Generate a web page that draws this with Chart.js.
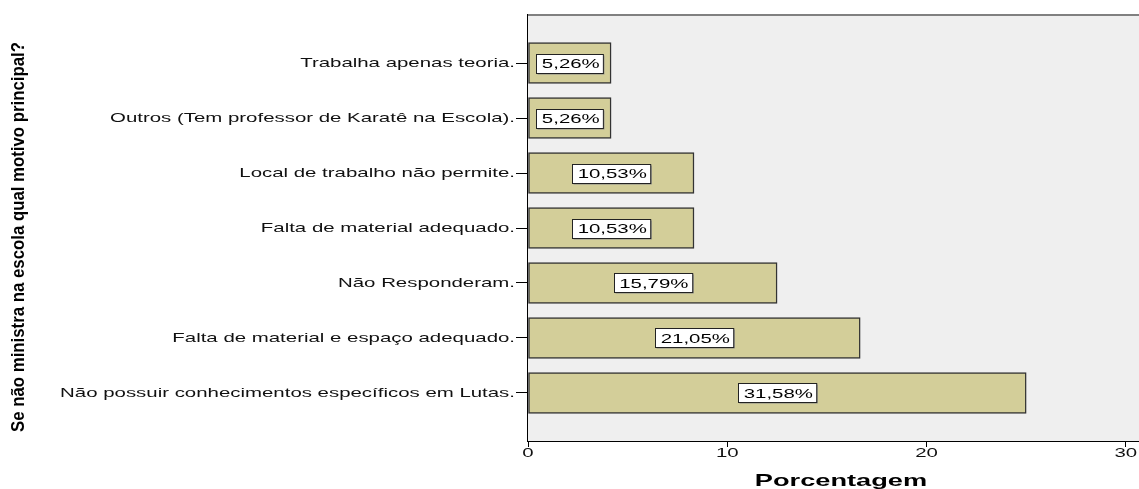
<!DOCTYPE html>
<html><head><meta charset="utf-8">
<script src="https://cdn.jsdelivr.net/npm/chart.js@4/dist/chart.umd.min.js"></script>
<style>html,body{margin:0;padding:0;background:#fff;overflow:hidden}</style>
</head><body>
<canvas id="c" width="1139" height="489"></canvas>
<script>
const categories = [
  'Trabalha apenas teoria.',
  'Outros (Tem professor de Karatê na Escola).',
  'Local de trabalho não permite.',
  'Falta de material adequado.',
  'Não Responderam.',
  'Falta de material e espaço adequado.',
  'Não possuir conhecimentos específicos em Lutas.'
];
const barValues = [4.17, 4.17, 8.33, 8.33, 12.5, 16.67, 25.0];
const barLabels = ['5,26%', '5,26%', '10,53%', '10,53%', '15,79%', '21,05%', '31,58%'];
const xTicks = [0, 10, 20, 30];
const yTitle = 'Se não ministra na escola qual motivo principal?';
const xTitle = 'Porcentagem';

const FONT = '"Liberation Sans", Arial, sans-serif';
const SX = 1.57;

function drawStretched(ctx, text, x, y, font, sx, align, color) {
  ctx.save();
  ctx.font = font;
  ctx.fillStyle = color;
  ctx.textBaseline = 'middle';
  ctx.textAlign = align;
  ctx.translate(x, y);
  ctx.scale(sx, 1);
  ctx.fillText(text, 0, 0);
  ctx.restore();
}

const decor = {
  id: 'decor',
  beforeDatasetsDraw(chart) {
    const {ctx, chartArea: a} = chart;
    ctx.save();
    ctx.fillStyle = '#efefef';
    ctx.fillRect(a.left, a.top, a.right - a.left, a.bottom - a.top);
    ctx.fillStyle = '#808080';
    ctx.fillRect(a.left, a.top - 1, a.right - a.left, 2);
    ctx.restore();
  },
  afterDraw(chart) {
    const {ctx, chartArea: a, scales} = chart;
    scales.y.ticks.forEach((t, i) => {
      const y = scales.y.getPixelForValue(t.value);
      drawStretched(ctx, categories[i], a.left - 13, y + 0.5, '13px ' + FONT, SX, 'right', '#111');
    });
    scales.x.ticks.forEach(t => {
      const x = scales.x.getPixelForValue(t.value);
      drawStretched(ctx, String(t.value), x, a.bottom + 12, '13px ' + FONT, SX, 'center', '#111');
    });
    const meta = chart.getDatasetMeta(0);
    meta.data.forEach((bar, i) => {
      const cx = (bar.x + bar.base) / 2;
      const cy = bar.y;
      ctx.save();
      ctx.font = '13px ' + FONT;
      const w = ctx.measureText(barLabels[i]).width * SX + 9;
      const h = 19;
      const bx = Math.round(cx - w / 2) + 0.5, by = Math.round(cy - h / 2) + 0.5;
      ctx.fillStyle = '#8a8a8a';
      ctx.fillRect(bx + 1, by + 1, w, h);
      ctx.fillStyle = '#ffffff';
      ctx.fillRect(bx, by, w, h);
      ctx.strokeStyle = '#222';
      ctx.lineWidth = 1;
      ctx.strokeRect(bx, by, w, h);
      ctx.restore();
      drawStretched(ctx, barLabels[i], cx + 1, cy + 1, '13px ' + FONT, SX, 'center', '#000');
    });
    drawStretched(ctx, xTitle, 841, 481, 'bold 17px ' + FONT, 1.6, 'center', '#000');
    ctx.save();
    ctx.font = 'bold 19px ' + FONT;
    const tw = ctx.measureText(yTitle).width;
    const target = 390;
    ctx.translate(19, 237);
    ctx.rotate(-Math.PI / 2);
    ctx.scale(target / tw, 1);
    ctx.fillStyle = '#000';
    ctx.textAlign = 'center';
    ctx.textBaseline = 'middle';
    ctx.fillText(yTitle, 0, 0);
    ctx.restore();
  }
};

new Chart(document.getElementById('c'), {
  type: 'bar',
  data: {
    datasets: [{
      data: barValues.map((v, i) => ({x: v, y: i})),
      backgroundColor: '#d3ce99',
      borderColor: '#333333',
      borderWidth: 1.5,
      borderSkipped: false,
      barThickness: 41
    }]
  },
  options: {
    responsive: false,
    animation: false,
    devicePixelRatio: 1,
    indexAxis: 'y',
    layout: {padding: {top: 15, right: 0, bottom: 0, left: 0}},
    plugins: {legend: {display: false}, tooltip: {enabled: false}},
    scales: {
      x: {
        type: 'linear', position: 'bottom', min: 0, max: 30.66, offset: false,
        afterBuildTicks: s => { s.ticks = xTicks.map(v => ({value: v})); },
        afterFit: s => { s.height = 48; },
        ticks: {display: false},
        grid: {offset: false, drawOnChartArea: false, drawTicks: true, tickLength: 6, color: '#000'},
        border: {color: '#000', width: 1}
      },
      y: {
        type: 'linear', position: 'left', min: -0.873, max: 6.873, reverse: true, offset: false,
        afterBuildTicks: s => { s.ticks = categories.map((c, i) => ({value: i})); },
        afterFit: s => { s.width = 528; },
        ticks: {display: false},
        grid: {offset: false, drawOnChartArea: false, drawTicks: true, tickLength: 12, color: '#000'},
        border: {color: '#000', width: 1.5}
      }
    }
  },
  plugins: [decor]
});
</script>
</body></html>
